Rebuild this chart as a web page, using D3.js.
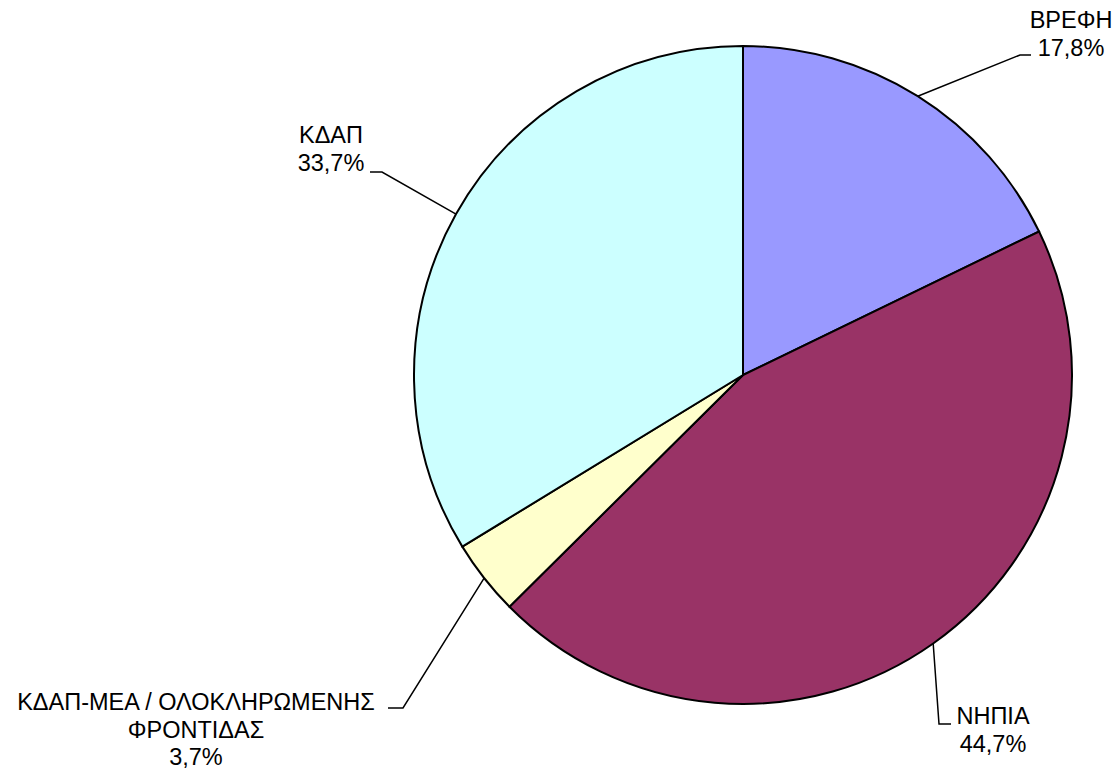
<!DOCTYPE html>
<meta charset="utf-8">
<style>
body { margin: 0; background: #fff; }
.slice { stroke: #000; stroke-width: 2px; }
.leader { fill: none; stroke: #000; stroke-width: 1.5px; }
.lbl { font: 23.5px "Liberation Sans", Arial, sans-serif; fill: #000; }
</style>
<svg width="1117" height="773"></svg>
<script src="https://cdn.jsdelivr.net/npm/d3@7"></script>
<script>
// data
var categories = ["ΒΡΕΦΗ", "ΝΗΠΙΑ", "ΚΔΑΠ-ΜΕΑ / ΟΛΟΚΛΗΡΩΜΕΝΗΣ\nΦΡΟΝΤΙΔΑΣ", "ΚΔΑΠ"];
var values = [17.8, 44.7, 3.7, 33.7];
var colors = ["#9999FF", "#993366", "#FFFFCC", "#CCFFFF"];

// label layout: text centre x, first baseline, leader elbow and end
var labelPos = [
  {x: 1071, y: 28,  elbow: [1020, 55],  end: [1031, 55]},
  {x: 993,  y: 724, elbow: [939, 724],  end: [951, 724]},
  {x: 196,  y: 710, elbow: [403, 708],  end: [388, 708]},
  {x: 331,  y: 143, elbow: [382, 172],  end: [370, 172]}
];

var svg = d3.select("svg"),
    cx = 743, cy = 375, r = 329,
    lineH = 27.5;

var fmt = d3.formatLocale({decimal: ",", thousands: ".", grouping: [3], currency: ["", "€"]}).format(".1f");

var pie = d3.pie().sort(null).value(function(d) { return d; });
var arcs = pie(values);

var arc = d3.arc().innerRadius(0).outerRadius(r);
var edge = d3.arc().innerRadius(r).outerRadius(r);

var g = svg.append("g").attr("transform", "translate(" + cx + "," + cy + ")");

g.selectAll(".slice")
    .data(arcs)
  .enter().append("path")
    .attr("class", "slice")
    .attr("d", arc)
    .style("fill", function(d, i) { return colors[i]; });

// leader lines
svg.selectAll(".leader")
    .data(arcs)
  .enter().append("polyline")
    .attr("class", "leader")
    .attr("points", function(d, i) {
      var c = edge.centroid(d), p = labelPos[i];
      return [[cx + c[0], cy + c[1]], p.elbow, p.end].map(function(q) { return q.join(","); }).join(" ");
    });

// labels
arcs.forEach(function(d, i) {
  var lines = categories[i].split("\n").concat(fmt(values[i]) + "%");
  var t = svg.append("text")
      .attr("class", "lbl")
      .attr("text-anchor", "middle");
  lines.forEach(function(s, k) {
    t.append("tspan")
        .attr("x", labelPos[i].x)
        .attr("y", labelPos[i].y + k * lineH)
        .text(s);
  });
});
</script>
